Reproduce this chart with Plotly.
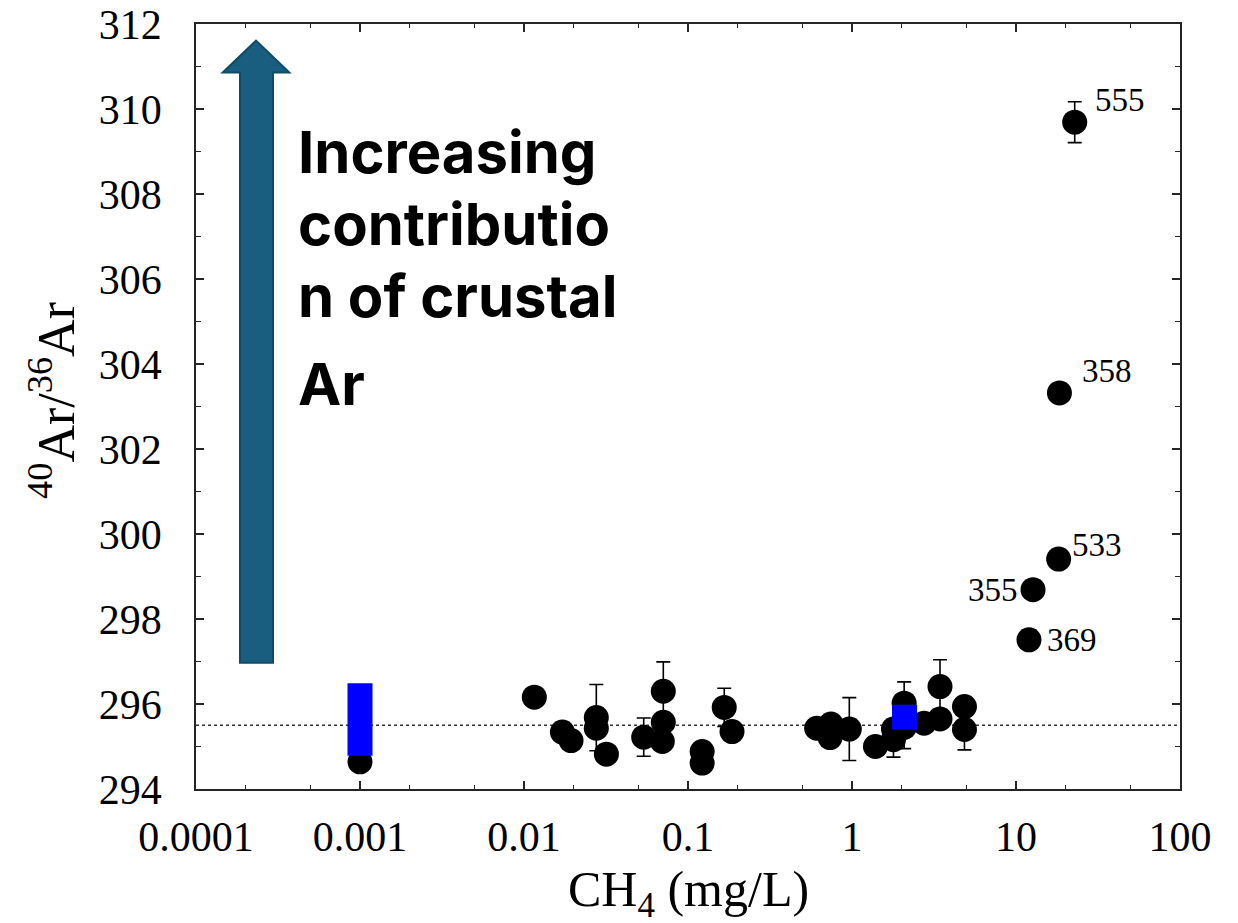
import numpy as np
import plotly.graph_objects as go

# ---------------- data ----------------
ch4 = [0.001, 0.01156, 0.01714, 0.01936, 0.0276, 0.0276, 0.0318, 0.0537,
       0.0707, 0.0707, 0.0697, 0.122, 0.122, 0.1663, 0.1855,
       0.609, 0.744, 0.735, 0.963, 1.39, 1.79, 1.79, 2.08, 2.08, 2.75,
       3.44, 3.44, 4.85, 4.85,
       22.8, 18.4, 18.2, 12.7, 12.0]
ar_ratio = [294.64, 296.16, 295.34, 295.14, 295.68, 295.43, 294.82, 295.22,
            296.30, 295.57, 295.12, 294.88, 294.61, 295.92, 295.35,
            295.43, 295.53, 295.21, 295.41, 295.00, 295.16, 295.41, 296.02, 295.45, 295.55,
            296.41, 295.65, 295.94, 295.40,
            309.69, 303.32, 299.41, 298.69, 297.51]
ar_err = [0, 0, 0, 0, 0.78, 0, 0, 0.45,
          0.69, 0, 0, 0, 0, 0.45, 0,
          0, 0, 0, 0.74, 0, 0.41, 0, 0.50, 0.50, 0,
          0.63, 0, 0, 0.48,
          0.48, 0, 0, 0, 0]

# labelled wells
label_text = ["555", "358", "533", "355", "369"]
label_ch4 = [22.8, 18.4, 18.2, 12.7, 12.0]
label_ar = [309.69, 303.32, 299.41, 298.69, 297.51]
label_dx = [45, 48, 38, -40, 43]
label_dy = [22, 22, 14, 0, 0]

# blue samples
blue_range_ch4 = [0.001, 0.001]
blue_range_ar = [294.78, 296.49]
blue_sq_ch4 = [2.09]
blue_sq_ar = [295.69]

AIR_RATIO = 295.5

x_tickvals = [1e-4, 1e-3, 1e-2, 1e-1, 1, 10, 100]
x_ticktext = ["0.0001", "0.001", "0.01", "0.1", "1", "10", "100"]

arrow_text = ["Increasing", "contributio", "n of crustal", "Ar"]

# ---------------- figure ----------------
W, H = 1238, 923
L, R, T, B = 196, 58, 24, 134
PW, PH = W - L - R, H - T - B

def px_x(p):
    return (p - L) / PW

def px_y(p):
    return (H - B - p) / PH

serif = "Liberation Serif, Times New Roman, serif"
axis_col = "#262626"

fig = go.Figure()

fig.add_trace(go.Scatter(
    x=ch4, y=ar_ratio, mode="markers",
    marker=dict(size=25, color="black", line=dict(width=0)),
    error_y=dict(type="data", array=ar_err, visible=True, color="black",
                 thickness=1.6, width=7),
    showlegend=False, hoverinfo="x+y"))

fig.add_trace(go.Scatter(
    x=blue_range_ch4, y=blue_range_ar, mode="lines",
    line=dict(color="#0000FF", width=25), showlegend=False))

fig.add_trace(go.Scatter(
    x=blue_sq_ch4, y=blue_sq_ar, mode="markers",
    marker=dict(symbol="square", size=25, color="#0000FF", line=dict(width=0)),
    showlegend=False))

# air ratio reference line
fig.add_shape(type="line", xref="paper", yref="y", x0=0, x1=1,
              y0=AIR_RATIO, y1=AIR_RATIO,
              line=dict(color="#333333", width=1.5, dash="dot"), layer="below")

# arrow (decorative)
xl, xr = px_x(240), px_x(273)
hl, hr, tip = px_x(222.7), px_x(289.3), px_x(256)
yb, ybase, ytip = 296.97, 310.86, 311.61
path = (f"M {xl},{yb} L {xr},{yb} L {xr},{ybase} L {hr},{ybase} "
        f"L {tip},{ytip} L {hl},{ybase} L {xl},{ybase} Z")
fig.add_shape(type="path", xref="paper", yref="y", path=path,
              fillcolor="#1A5E7F", line=dict(color="#0F4A66", width=2))

# arrow text
baselines = [172.7, 245, 316.7, 405]
for txt, bl in zip(arrow_text, baselines):
    fig.add_annotation(xref="paper", yref="paper", x=px_x(296), y=px_y(bl - 21),
                       xanchor="left", yanchor="middle", showarrow=False,
                       text=txt, font=dict(family="Inter", size=58, color="black",
                                           weight="bold"))

# point labels
for t, xv, yv, dx, dy in zip(label_text, label_ch4, label_ar, label_dx, label_dy):
    fig.add_annotation(x=np.log10(xv), y=yv, xref="x", yref="y", text=t,
                       showarrow=False, xshift=dx, yshift=dy,
                       font=dict(family=serif, size=33, color="black"))

# axis titles
fig.add_annotation(xref="paper", yref="paper", x=0.5, y=px_y(893),
                   xanchor="center", yanchor="middle", showarrow=False,
                   text="CH<sub>4</sub> (mg/L)",
                   font=dict(family=serif, size=50, color="black"))
fig.add_annotation(xref="paper", yref="paper", x=px_x(52), y=px_y(401),
                   xanchor="center", yanchor="middle", showarrow=False,
                   textangle=-90,
                   text="<sup>40</sup>Ar/<sup>36</sup>Ar",
                   font=dict(family=serif, size=52, color="black"))

fig.update_xaxes(type="log", range=[-4, 2], tickvals=x_tickvals, ticktext=x_ticktext,
                 ticks="inside", ticklen=8, tickwidth=1.5, tickcolor=axis_col,
                 minor=dict(ticks="inside", ticklen=4, tickwidth=1.2, tickcolor=axis_col,
                            showgrid=False),
                 showline=True, linecolor=axis_col, linewidth=1.5, mirror="ticks",
                 showgrid=False, zeroline=False, automargin=False,
                 tickfont=dict(family=serif, size=42, color="black"),
                 ticklabelstandoff=10)
fig.update_yaxes(range=[294, 312], dtick=2, tick0=294,
                 ticks="inside", ticklen=8, tickwidth=1.5, tickcolor=axis_col,
                 minor=dict(dtick=1, ticks="inside", ticklen=5, tickwidth=1.2,
                            tickcolor=axis_col, showgrid=False),
                 showline=True, linecolor=axis_col, linewidth=1.5, mirror="ticks",
                 showgrid=False, zeroline=False, automargin=False,
                 tickfont=dict(family=serif, size=42, color="black"),
                 ticklabelstandoff=24)

fig.update_layout(width=W, height=H, margin=dict(l=L, r=R, t=T, b=B, autoexpand=False),
                  plot_bgcolor="white", paper_bgcolor="white", showlegend=False)

fig.write_html("out.html")
